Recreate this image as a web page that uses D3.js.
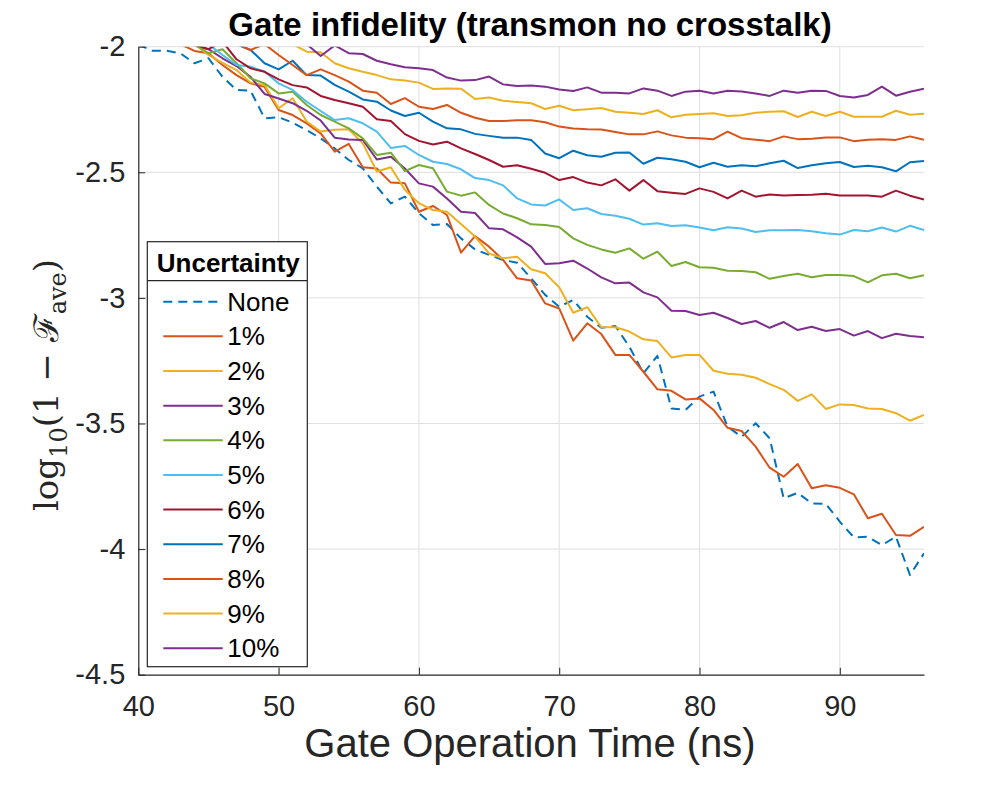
<!DOCTYPE html>
<html>
<head>
<meta charset="utf-8">
<script src="https://cdn.jsdelivr.net/npm/d3@7"></script>
<style>
  html, body { margin: 0; padding: 0; background: #fff; }
  svg { display: block; }
</style>
</head>
<body>
<svg id="chart" width="983" height="786"></svg>
<script>
// ---------------- data ----------------
const gateTimes = [40,41,42,43,44,45,46,47,48,49,50,51,52,53,54,55,56,57,58,59,
  60,61,62,63,64,65,66,67,68,69,70,71,72,73,74,75,76,77,78,79,
  80,81,82,83,84,85,86,87,88,89,90,91,92,93,94,95,96];

const seriesNames = ["None","1%","2%","3%","4%","5%","6%","7%","8%","9%","10%"];
const seriesColors = ["#0072BD","#D95319","#EDB120","#7E2F8E","#77AC30","#4DBEEE",
  "#A2142F","#0072BD","#D95319","#EDB120","#7E2F8E"];

const noneVals = [-1.99,-2.016,-2.016,-2.026,-2.066,-2.046,-2.12,-2.172,-2.175,-2.285,
  -2.281,-2.302,-2.332,-2.365,-2.405,-2.451,-2.484,-2.557,-2.624,-2.597,
  -2.663,-2.710,-2.706,-2.763,-2.807,-2.829,-2.849,-2.860,-2.922,-2.988,
  -3.035,-3.008,-3.075,-3.119,-3.112,-3.194,-3.300,-3.231,-3.440,-3.446,
  -3.393,-3.373,-3.513,-3.553,-3.499,-3.559,-3.798,-3.776,-3.818,-3.820,
  -3.891,-3.953,-3.951,-3.984,-3.951,-4.103,-4.017];
const u1 = [null,null,null,-1.99,-2.017,-2.026,-2.073,-2.113,-2.146,-2.16,
  -2.252,-2.272,-2.305,-2.345,-2.418,-2.387,-2.480,-2.485,-2.541,-2.544,
  -2.657,-2.634,-2.670,-2.820,-2.754,-2.796,-2.849,-2.922,-2.931,-3.022,
  -3.042,-3.170,-3.101,-3.144,-3.227,-3.227,-3.294,-3.364,-3.370,-3.404,
  -3.40,-3.446,-3.517,-3.530,-3.592,-3.676,-3.712,-3.661,-3.758,-3.746,
  -3.756,-3.782,-3.877,-3.859,-3.944,-3.947,-3.911];
const u2 = [null,null,null,null,-1.99,-2.033,-2.064,-2.093,-2.143,-2.152,
  -2.245,-2.205,-2.298,-2.338,-2.331,-2.329,-2.385,-2.497,-2.480,-2.570,
  -2.623,-2.650,-2.657,-2.706,-2.756,-2.823,-2.842,-2.836,-2.886,-2.902,
  -2.958,-3.059,-3.037,-3.117,-3.117,-3.134,-3.165,-3.172,-3.237,-3.227,
  -3.227,-3.290,-3.302,-3.306,-3.318,-3.343,-3.366,-3.410,-3.384,-3.442,
  -3.424,-3.426,-3.440,-3.442,-3.459,-3.489,-3.466];
const u3 = [null,null,null,null,-1.995,-2.010,-2.046,-2.077,-2.120,-2.188,
  -2.206,-2.225,-2.255,-2.294,-2.362,-2.369,-2.371,-2.449,-2.438,-2.485,
  -2.544,-2.557,-2.604,-2.657,-2.662,-2.723,-2.727,-2.759,-2.796,-2.865,
  -2.862,-2.852,-2.883,-2.918,-2.942,-2.939,-2.978,-2.998,-3.051,-3.052,
  -3.068,-3.059,-3.080,-3.104,-3.092,-3.119,-3.096,-3.128,-3.115,-3.132,
  -3.124,-3.150,-3.132,-3.160,-3.143,-3.152,-3.157];
const u4 = [null,null,null,null,-1.99,-2.026,-2.010,-2.066,-2.126,-2.146,
  -2.186,-2.179,-2.232,-2.272,-2.298,-2.325,-2.365,-2.431,-2.422,-2.495,
  -2.471,-2.484,-2.577,-2.593,-2.580,-2.630,-2.664,-2.683,-2.707,-2.710,
  -2.718,-2.763,-2.789,-2.807,-2.820,-2.803,-2.844,-2.816,-2.873,-2.857,
  -2.878,-2.880,-2.892,-2.893,-2.898,-2.924,-2.913,-2.904,-2.918,-2.909,
  -2.909,-2.913,-2.938,-2.910,-2.904,-2.922,-2.910];
const u5 = [null,null,null,null,null,-1.99,-2.033,-2.073,-2.080,-2.099,
  -2.146,-2.172,-2.219,-2.256,-2.292,-2.285,-2.305,-2.338,-2.403,-2.395,
  -2.431,-2.458,-2.467,-2.488,-2.523,-2.531,-2.552,-2.604,-2.628,-2.632,
  -2.608,-2.650,-2.643,-2.666,-2.673,-2.685,-2.708,-2.703,-2.714,-2.711,
  -2.720,-2.731,-2.719,-2.724,-2.738,-2.731,-2.731,-2.730,-2.735,-2.743,
  -2.748,-2.730,-2.735,-2.720,-2.736,-2.713,-2.730];
const u6 = [null,null,null,null,-1.99,-2.01,-1.98,-2.050,-2.086,-2.100,
  -2.130,-2.153,-2.162,-2.196,-2.212,-2.225,-2.239,-2.289,-2.296,-2.348,
  -2.375,-2.389,-2.378,-2.405,-2.427,-2.451,-2.478,-2.472,-2.486,-2.502,
  -2.531,-2.519,-2.541,-2.552,-2.528,-2.573,-2.531,-2.575,-2.581,-2.586,
  -2.564,-2.578,-2.604,-2.573,-2.597,-2.588,-2.592,-2.590,-2.589,-2.585,
  -2.592,-2.592,-2.592,-2.597,-2.573,-2.593,-2.608];
const u7 = [null,null,null,null,null,null,null,-1.99,-2.013,-2.066,
  -2.090,-2.056,-2.113,-2.115,-2.152,-2.179,-2.210,-2.219,-2.254,-2.276,
  -2.263,-2.298,-2.325,-2.329,-2.347,-2.355,-2.362,-2.362,-2.371,-2.425,
  -2.444,-2.414,-2.432,-2.438,-2.422,-2.421,-2.466,-2.442,-2.448,-2.458,
  -2.480,-2.462,-2.478,-2.472,-2.476,-2.464,-2.454,-2.483,-2.472,-2.464,
  -2.459,-2.479,-2.474,-2.480,-2.496,-2.460,-2.455];
const u8 = [null,null,null,null,null,null,null,-1.99,-2.013,-1.99,
  -2.033,-2.073,-2.113,-2.090,-2.113,-2.139,-2.175,-2.183,-2.228,-2.205,
  -2.239,-2.248,-2.232,-2.263,-2.283,-2.296,-2.296,-2.293,-2.293,-2.301,
  -2.318,-2.326,-2.329,-2.330,-2.340,-2.349,-2.349,-2.337,-2.353,-2.362,
  -2.364,-2.368,-2.338,-2.364,-2.370,-2.376,-2.357,-2.368,-2.366,-2.361,
  -2.361,-2.376,-2.370,-2.368,-2.371,-2.357,-2.371];
const u9 = [null,null,null,null,null,null,null,null,null,null,
  null,-1.99,-2.020,-2.022,-2.066,-2.086,-2.100,-2.113,-2.130,-2.135,
  -2.143,-2.168,-2.166,-2.167,-2.208,-2.202,-2.215,-2.220,-2.225,-2.248,
  -2.235,-2.253,-2.249,-2.244,-2.259,-2.263,-2.268,-2.253,-2.281,-2.271,
  -2.268,-2.265,-2.276,-2.273,-2.263,-2.259,-2.257,-2.280,-2.259,-2.276,
  -2.259,-2.279,-2.279,-2.279,-2.255,-2.271,-2.267];
const u10 = [null,null,null,null,null,null,null,null,null,null,
  null,null,-1.99,-2.037,-1.995,-2.026,-2.029,-2.056,-2.070,-2.082,
  -2.086,-2.093,-2.123,-2.135,-2.133,-2.119,-2.150,-2.156,-2.154,-2.159,
  -2.170,-2.176,-2.162,-2.183,-2.183,-2.186,-2.166,-2.175,-2.196,-2.179,
  -2.175,-2.186,-2.175,-2.178,-2.186,-2.196,-2.175,-2.183,-2.175,-2.176,
  -2.196,-2.202,-2.192,-2.159,-2.195,-2.179,-2.167];

const xTicks = [40,50,60,70,80,90];
const yTicks = [-2,-2.5,-3,-3.5,-4,-4.5];
const yTickLabels = ["-2","-2.5","-3","-3.5","-4","-4.5"];

const allSeries = [noneVals,u1,u2,u3,u4,u5,u6,u7,u8,u9,u10];

// ---------------- layout ----------------
const svg = d3.select("#chart");
const L = 138.3, R = 924, T = 46.7, B = 674.7;
const x = d3.scaleLinear().domain([40, 96]).range([L, R]);
const y = d3.scaleLinear().domain([-4.5, -2]).range([B, T]);
const axisColor = "#262626";
const sans = "Liberation Sans, Arial, sans-serif";

// grid
const grid = svg.append("g");
grid.selectAll("line.gx").data(xTicks.slice(1)).enter().append("line")
  .attr("x1", d => x(d)).attr("x2", d => x(d)).attr("y1", T).attr("y2", B)
  .attr("stroke", "#dfdfdf").attr("stroke-width", 1);
grid.selectAll("line.gy").data(yTicks.slice(0, -1)).enter().append("line")
  .attr("x1", L).attr("x2", R).attr("y1", d => y(d)).attr("y2", d => y(d))
  .attr("stroke", "#dfdfdf").attr("stroke-width", 1);

// clip
svg.append("clipPath").attr("id", "plotclip")
  .append("rect").attr("x", L).attr("y", T).attr("width", R - L).attr("height", B - T);

// lines
const line = d3.line()
  .defined(d => d[1] !== null)
  .x(d => x(d[0])).y(d => y(d[1]));

const lines = svg.append("g").attr("clip-path", "url(#plotclip)");
allSeries.forEach((vals, i) => {
  const pts = gateTimes.map((t, j) => [t, vals[j]]);
  lines.append("path")
    .datum(pts)
    .attr("d", line)
    .attr("fill", "none")
    .attr("stroke", seriesColors[i])
    .attr("stroke-width", 2)
    .attr("stroke-linejoin", "round")
    .attr("stroke-dasharray", i === 0 ? "9,6" : null);
});

// axes
const xAxis = d3.axisBottom(x).tickValues(xTicks).tickSizeInner(-7).tickSizeOuter(0)
  .tickPadding(21).tickFormat(d3.format("d"));
const gx = svg.append("g").attr("transform", `translate(0,${B})`).call(xAxis);
gx.select(".domain").attr("stroke", axisColor).attr("stroke-width", 1.2);
gx.selectAll(".tick line").attr("stroke", axisColor);
gx.selectAll("text").attr("fill", axisColor).attr("font-size", 29)
  .attr("font-family", sans);

const yAxis = d3.axisLeft(y).tickValues(yTicks).tickSizeInner(-7).tickSizeOuter(0)
  .tickPadding(13).tickFormat((d, i) => yTickLabels[i]);
const gy = svg.append("g").attr("transform", `translate(${L},0)`).call(yAxis);
gy.select(".domain").attr("stroke", axisColor).attr("stroke-width", 1.2);
gy.selectAll(".tick line").attr("stroke", axisColor);
gy.selectAll("text").attr("fill", axisColor).attr("font-size", 29)
  .attr("font-family", sans);

// title
svg.append("text").attr("x", 530).attr("y", 36).attr("text-anchor", "middle")
  .attr("font-family", sans)
  .attr("font-weight", "bold").attr("font-size", 33).attr("fill", "#000")
  .text("Gate infidelity (transmon no crosstalk)");

// x label
svg.append("text").attr("x", 530).attr("y", 757).attr("text-anchor", "middle")
  .attr("font-family", sans)
  .attr("font-size", 40).attr("fill", axisColor)
  .text("Gate Operation Time (ns)");

// y label (math)
const yl = svg.append("text")
  .attr("transform", "translate(58,385) rotate(-90)")
  .attr("text-anchor", "middle")
  .attr("font-family", "DejaVu Serif, Liberation Serif, serif")
  .attr("font-size", 34).attr("fill", axisColor);
yl.append("tspan").text("log");
yl.append("tspan").attr("font-size", 24).attr("dy", 9).text("10");
yl.append("tspan").attr("dy", -9).text("(1 − ");
yl.append("tspan").text("ℱ");
yl.append("tspan").attr("font-size", 24).attr("dy", 8).text("ave");
yl.append("tspan").attr("dy", -8).text(")");

// legend
const lg = svg.append("g");
const lgX = 147.3, lgY = 241.7, lgW = 160, lgH = 425;
lg.append("rect").attr("x", lgX).attr("y", lgY).attr("width", lgW).attr("height", lgH)
  .attr("fill", "#fff").attr("stroke", axisColor).attr("stroke-width", 1.2);
lg.append("line").attr("x1", lgX).attr("x2", lgX + lgW).attr("y1", 280.7).attr("y2", 280.7)
  .attr("stroke", axisColor).attr("stroke-width", 1.2);
lg.append("text").attr("x", lgX + lgW / 2 + 1).attr("y", 263).attr("dy", "0.35em")
  .attr("text-anchor", "middle")
  .attr("font-family", sans)
  .attr("font-weight", "bold").attr("font-size", 26).attr("fill", "#000")
  .text("Uncertainty");
seriesNames.forEach((name, i) => {
  const cy = 301.7 + i * 34.65;
  lg.append("line").attr("x1", 163.3).attr("x2", 222.7).attr("y1", cy).attr("y2", cy)
    .attr("stroke", seriesColors[i]).attr("stroke-width", 2)
    .attr("stroke-dasharray", i === 0 ? "9,6" : null);
  lg.append("text").attr("x", 227.3).attr("y", cy).attr("dy", "0.35em")
    .attr("font-family", sans)
    .attr("font-size", 26).attr("fill", "#000").text(name);
});
</script>
</body>
</html>
